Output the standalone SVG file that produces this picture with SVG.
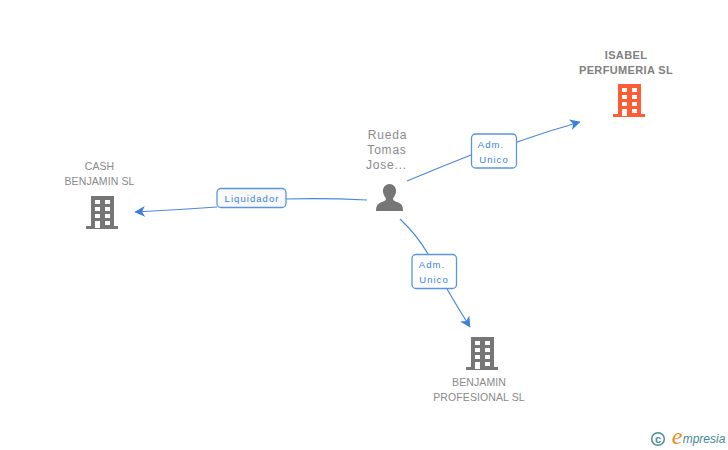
<svg xmlns="http://www.w3.org/2000/svg" width="728" height="450" viewBox="0 0 728 450">
<style>
text{font-family:"Liberation Sans",Arial,sans-serif;text-anchor:middle}
.n{font-size:10.500px;fill:#8a8a8a;letter-spacing:.1px}
.b{font-size:11px;fill:#808080;font-weight:bold;letter-spacing:.35px}
.p{font-size:12px;fill:#8a8a8a;letter-spacing:.8px}
.l{font-size:9.500px;fill:#3b7fdc;letter-spacing:1.050px}
.c{fill:none;stroke:#4a88e0;stroke-width:1.200}
.r{fill:#fff;stroke:#5a94e4;stroke-width:1.300}
.g{fill:#767676}
.o{fill:#ff5c35}
</style>
<defs>
<marker id="a" markerUnits="userSpaceOnUse" markerWidth="12" markerHeight="12" refX="10" refY="5.500" orient="auto"><path d="M0 0L10.500 5.500L0 11L3 5.500Z" fill="#3b7fdc"/></marker>
<path id="bld" fill-rule="evenodd" d="M5 0H28V30H32V33H0V30H5ZM9 4V8H14V4ZM19 4V8H24V4ZM9 11V15H14V11ZM19 11V15H24V11ZM9 18V22H14V18ZM19 18V22H24V18ZM9 25V32H14V25ZM19 25V29H24V25Z"/>
</defs>
<rect width="728" height="450" fill="#fff"/>
<g id="connectors">
<path class="c" d="M407 181Q438 168 471 155"/>
<path class="c" marker-end="url(#a)" d="M517 142Q548 131 580 122"/>
<path class="c" d="M367 200Q325 198 285 199"/>
<path class="c" marker-end="url(#a)" d="M217 207Q175 210 135 212"/>
<path class="c" d="M400 219Q417 235 428 254"/>
<path class="c" marker-end="url(#a)" d="M447 289Q458 308 470 327"/>
</g>
<g id="label-adm1"><rect class="r" x="471.500" y="134" width="45" height="34" rx="4"/><text class="l" x="491" y="147.500">Adm.</text><text class="l" x="494" y="162.500">Unico</text></g>
<g id="label-liq"><rect class="r" x="217" y="188.500" width="69" height="19" rx="4" style="fill:#f9f9f9"/><text class="l" x="252" y="202">Liquidador</text></g>
<g id="label-adm2"><rect class="r" x="412" y="254.500" width="44.500" height="34" rx="4"/><text class="l" x="432" y="267.500">Adm.</text><text class="l" x="434" y="282.500">Unico</text></g>
<g id="node-isabel"><text class="b" x="626" y="58.500">ISABEL</text><text class="b" x="626" y="73.500">PERFUMERIA SL</text><use href="#bld" class="o" x="613" y="84"/></g>
<g id="node-rueda"><text class="p" x="387.500" y="139">Rueda</text><text class="p" x="387" y="154">Tomas</text><text class="p" x="386.500" y="169">Jose...</text>
<path class="g" d="M389.500 184C394 184 396.500 188 396 192C395.600 195 394 197 393 198.500C393 200 394 201 397 202C401 203.500 403 205 403 211H376C376 205 378 203.500 382 202C385 201 386 200 386 198.500C385 197 383.400 195 383 192C382.500 188 385 184 389.500 184Z"/></g>
<g id="node-cash"><text class="n" x="99.500" y="170">CASH</text><text class="n" x="99.500" y="185">BENJAMIN SL</text><use href="#bld" class="g" x="86" y="196"/></g>
<g id="node-benjamin"><use href="#bld" class="g" x="466" y="337"/><text class="n" x="479" y="386">BENJAMIN</text><text class="n" x="479" y="401">PROFESIONAL SL</text></g>
<g id="brand"><circle cx="658" cy="439" r="6.300" fill="none" stroke="#4a8a9e" stroke-width="1.500"/><text x="658" y="442.500" style="font-size:11px;font-weight:bold;fill:#4a8a9e">c</text><text x="677" y="444" style="font-family:'Liberation Serif',serif;font-style:italic;font-size:24px;fill:#f08a1d">e</text><text x="704" y="443" style="font-style:italic;font-size:12px;fill:#3f8a9c">mpresia</text></g>
</svg>
